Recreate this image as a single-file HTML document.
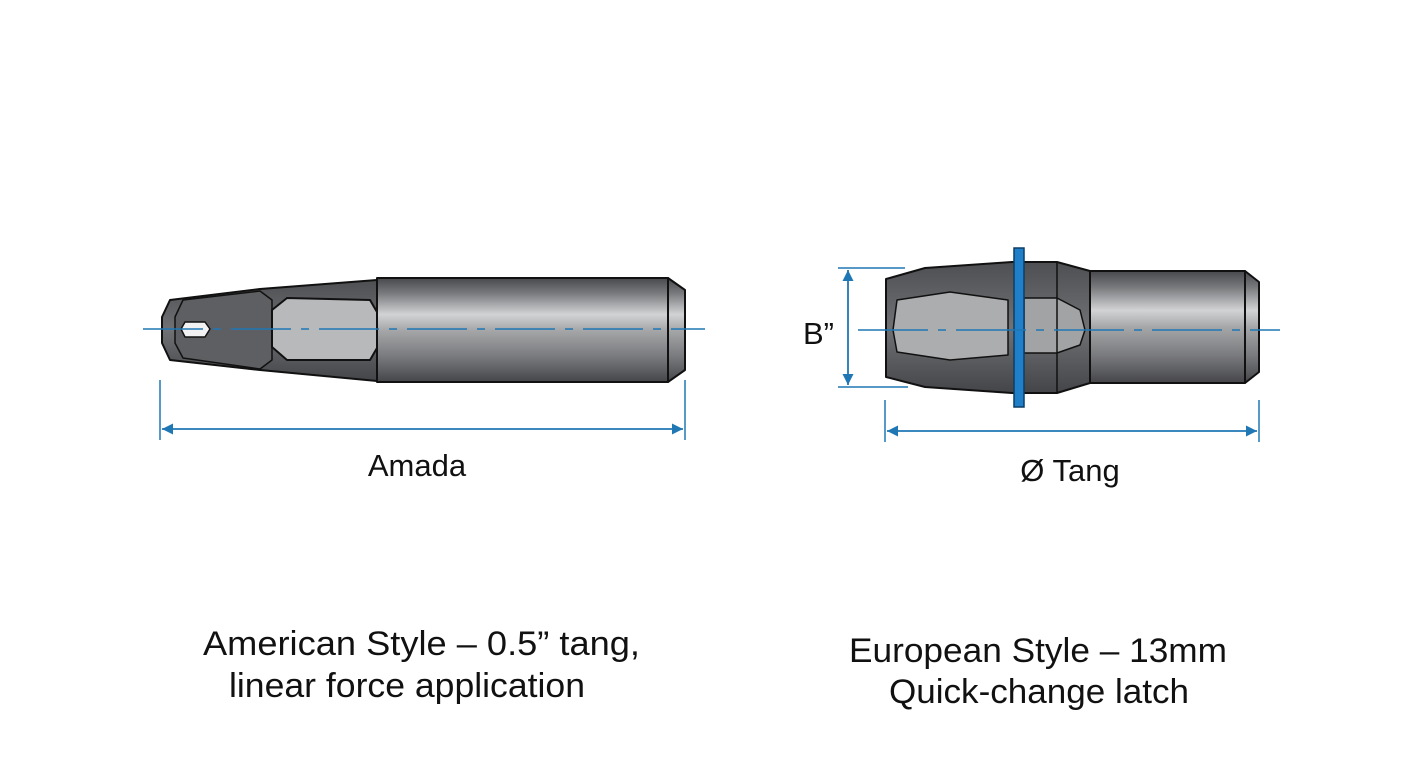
<!DOCTYPE html>
<html><head><meta charset="utf-8"><style>
html,body{margin:0;padding:0;background:#fff;}
svg{display:block;}
text{font-family:"Liberation Sans","DejaVu Sans",sans-serif;fill:#111;}
</style></head><body>
<svg width="1408" height="768" viewBox="0 0 1408 768" xmlns="http://www.w3.org/2000/svg">
<defs>
<linearGradient id="cyl" x1="0" y1="0" x2="0" y2="1">
<stop offset="0" stop-color="#48494c"/><stop offset="0.15" stop-color="#7a7b7e"/>
<stop offset="0.35" stop-color="#d2d3d5"/><stop offset="0.5" stop-color="#a6a7a9"/>
<stop offset="0.75" stop-color="#7a7b7e"/><stop offset="1" stop-color="#45464a"/>
</linearGradient>
<linearGradient id="dark" x1="0" y1="0" x2="0" y2="1">
<stop offset="0" stop-color="#4e4f52"/><stop offset="0.5" stop-color="#707174"/><stop offset="1" stop-color="#444548"/>
</linearGradient>
<marker id="ar" viewBox="0 0 10 10" refX="10" refY="5" markerWidth="16" markerHeight="11" markerUnits="userSpaceOnUse" orient="auto-start-reverse">
<path d="M0,0 L10,5 L0,10 z" fill="#1f77b4"/></marker>
</defs>

<!-- LEFT TOOL -->
<g stroke="#111" stroke-width="2" stroke-linejoin="round">
<polygon points="170,300 260,289 377,280 377,381 260,370 170,360 162,343 162,317" fill="url(#dark)"/>
<polygon points="183,300 260,291 272,300 272,360 260,369 183,358 175,343 175,317" fill="#5e5f62" stroke-width="1.5"/>
<polygon points="287,298 370,300 377,312 377,348 370,360 287,360 272,347 272,310" fill="#b8b9bb"/>
<rect x="377" y="278" width="291" height="104" fill="url(#cyl)"/>
<polygon points="668,278 685,290 685,370 668,382" fill="url(#cyl)"/>
<polygon points="185,322 205,322 210,329 205,337 185,337 181,329" fill="#f2f2f2" stroke-width="1.5"/>
</g>
<line x1="143" y1="329" x2="705" y2="329" stroke="#1f77b4" stroke-width="1.5" stroke-dasharray="60,10,8,10"/>
<line x1="160" y1="380" x2="160" y2="440" stroke="#1f77b4" stroke-width="1.5"/>
<line x1="685" y1="380" x2="685" y2="440" stroke="#1f77b4" stroke-width="1.5"/>
<line x1="162" y1="429" x2="683" y2="429" stroke="#1f77b4" stroke-width="1.8" marker-start="url(#ar)" marker-end="url(#ar)"/>
<text x="417" y="476" font-size="31" text-anchor="middle">Amada</text>

<!-- RIGHT TOOL -->
<g stroke="#111" stroke-width="2" stroke-linejoin="round">
<polygon points="886,279 925,268 1012,262 1057,262 1090,271 1090,383 1057,393 1012,393 925,387 886,377" fill="url(#dark)"/>
<polygon points="897,300 950,292 1008,300 1008,355 950,360 897,352 893,330" fill="#acadaf" stroke-width="1.5"/>
<polygon points="1024,298 1057,298 1080,310 1085,330 1080,345 1057,353 1024,353" fill="#a2a3a5" stroke-width="1.5"/>
<rect x="1090" y="271" width="155" height="112" fill="url(#cyl)"/>
<polygon points="1245,271 1259,282 1259,372 1245,383" fill="url(#cyl)"/>
<line x1="1057" y1="262" x2="1057" y2="393" stroke-width="1.5"/>
</g>
<rect x="1014" y="248" width="10" height="159" fill="#1f7fc8" stroke="#0d3f66" stroke-width="1.5"/>
<line x1="858" y1="330" x2="1280" y2="330" stroke="#1f77b4" stroke-width="1.5" stroke-dasharray="70,10,8,10"/>
<line x1="838" y1="268" x2="905" y2="268" stroke="#1f77b4" stroke-width="1.5"/>
<line x1="838" y1="387" x2="908" y2="387" stroke="#1f77b4" stroke-width="1.5"/>
<line x1="848" y1="270" x2="848" y2="385" stroke="#1f77b4" stroke-width="1.8" marker-start="url(#ar)" marker-end="url(#ar)"/>
<text x="803" y="344" font-size="31">B”</text>
<line x1="885" y1="400" x2="885" y2="442" stroke="#1f77b4" stroke-width="1.5"/>
<line x1="1259" y1="400" x2="1259" y2="442" stroke="#1f77b4" stroke-width="1.5"/>
<line x1="887" y1="431" x2="1257" y2="431" stroke="#1f77b4" stroke-width="1.8" marker-start="url(#ar)" marker-end="url(#ar)"/>
<text x="1070" y="481" font-size="31" text-anchor="middle">Ø Tang</text>

<!-- CAPTIONS -->
<text x="203" y="655" font-size="34" textLength="437" lengthAdjust="spacingAndGlyphs">American Style – 0.5” tang,</text>
<text x="229" y="697" font-size="34" textLength="356" lengthAdjust="spacingAndGlyphs">linear force application</text>
<text x="849" y="662" font-size="34" textLength="378" lengthAdjust="spacingAndGlyphs">European Style – 13mm</text>
<text x="889" y="703" font-size="34" textLength="300" lengthAdjust="spacingAndGlyphs">Quick-change latch</text>
</svg>
</body></html>
